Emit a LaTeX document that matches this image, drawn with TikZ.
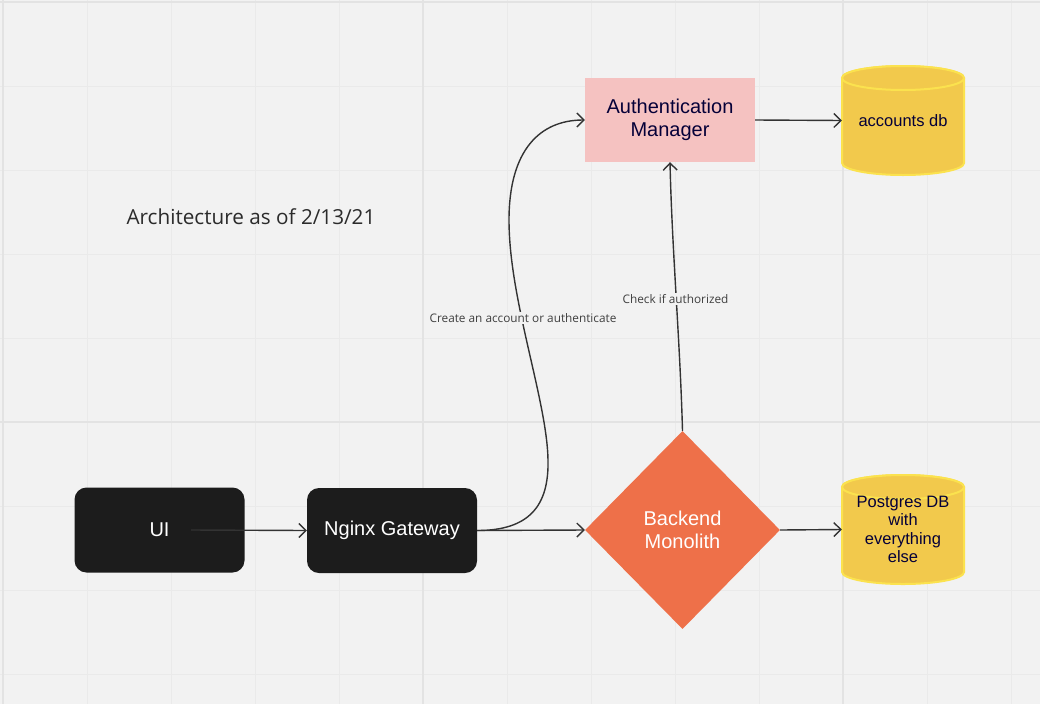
\documentclass[tikz,border=0pt]{standalone}
\usepackage{fontspec}
\setmainfont{Liberation Sans}
\newfontfamily\osans{Open Sans}
\usetikzlibrary{shapes.geometric,arrows.meta}
\definecolor{bgc}{HTML}{F2F2F2}
\definecolor{gridminor}{HTML}{EAEAEA}
\definecolor{gridmajor}{HTML}{E3E3E3}
\definecolor{blackbox}{HTML}{1C1C1C}
\definecolor{pinkbox}{HTML}{F5C2C1}
\definecolor{orangebox}{HTML}{EE7049}
\definecolor{cylfill}{HTML}{F2C94C}
\definecolor{cylline}{HTML}{FBE24E}
\definecolor{navytext}{HTML}{050038}
\definecolor{linec}{HTML}{333333}
\definecolor{labelc}{HTML}{3F3F3F}
\definecolor{titlec}{HTML}{2B2B2B}
\newcommand\drawcylinder[1]{%
  \begin{scope}[shift={#1}]
    \path[fill=cylfill,draw=cylline,line width=2pt]
      (-61,-42.5) -- (-61,42.5) arc[start angle=180,end angle=0,x radius=61,y radius=12]
      -- (61,-42.5) arc[start angle=0,end angle=-180,x radius=61,y radius=12] -- cycle;
    \path[fill=cylfill,draw=cylline,line width=2pt] (0,-42.5) ellipse[x radius=61,y radius=12];
  \end{scope}}
\begin{document}
\begin{tikzpicture}[x=1pt,y=-1pt,
  blk/.style={rectangle,rounded corners=12pt,fill=blackbox,text=white,
    minimum width=170,minimum height=85,inner sep=0pt,
    font=\fontsize{20}{23.5}\selectfont},
  authbox/.style={rectangle,fill=pinkbox,text=navytext,minimum width=170,
    minimum height=84,inner sep=0pt,align=center,
    font=\fontsize{20}{23.5}\selectfont},
  dia/.style={diamond,fill=orangebox,text=white,minimum width=195,
    minimum height=198,inner sep=0pt,align=center,
    font=\fontsize{20}{23}\selectfont},
  cyltext/.style={rectangle,minimum width=122,minimum height=109,inner sep=0pt,
    align=center,text=navytext,font=\fontsize{16.5}{18.4}\selectfont},
  conn/.style={draw=linec,line width=1.4pt,
    -{Straight Barb[length=7pt,width=14pt]}},
  lbl/.style={fill=bgc,text=labelc,inner sep=1.5pt,
    font=\osans\fontsize{11.8}{13}\selectfont},
]
\useasboundingbox (0,0) rectangle (1040,704);
\fill[bgc] (0,0) rectangle (1040,704);
% grid
\foreach \i in {0,...,12}
  \draw[gridminor,line width=1pt] ({3+84*\i},0) -- ({3+84*\i},704);
\foreach \j in {0,...,8}
  \draw[gridminor,line width=1pt] (0,{2+84*\j}) -- (1040,{2+84*\j});
\foreach \i in {3,423,843}
  \draw[gridmajor,line width=2pt] (\i,0) -- (\i,704);
\foreach \j in {2,422}
  \draw[gridmajor,line width=2pt] (0,\j) -- (1040,\j);

% cylinders
\drawcylinder{(903,120.5)}
\drawcylinder{(903,529.5)}

% nodes
\node[blk] (ui) at (159.5,530) {UI};
\node[blk] (ng) at (392,530.5) {Nginx Gateway};
\node[authbox] (am) at (670,120) {Authentication\\Manager};
\node[dia] (bm) at (682.5,530) {Backend\\Monolith};
\node[cyltext] (acc) at (903,120.5) {accounts db};
\node[cyltext] (pg) at (903,529.5) {Postgres DB\\with\\everything\\else};

\node[text=titlec,font=\osans\fontsize{20.7}{24}\selectfont] (title) at (251,217)
  {Architecture as of 2/13/21};

% connectors
\draw[conn] ([xshift=31.5pt]ui.center) -- (ng.west);
\draw[conn] (ng.east) -- (bm.west);
\draw[conn] (ng.east) .. controls (530,530.5) and (549,505) .. (548,460)
  .. controls (547,400) and (509,300) .. (509,220)
  .. controls (509,150) and (540,120) .. (am.west);
\draw[conn] (bm.north) .. controls (680,340) and (672,250) .. (am.south);
\draw[conn] (am.east) -- (acc.west);
\draw[conn] (bm.east) -- (pg.west);

% labels
\node[lbl] (l1) at (523,318) {Create an account or authenticate};
\node[lbl] (l2) at (675.5,299) {Check if authorized};
\end{tikzpicture}
\end{document}
